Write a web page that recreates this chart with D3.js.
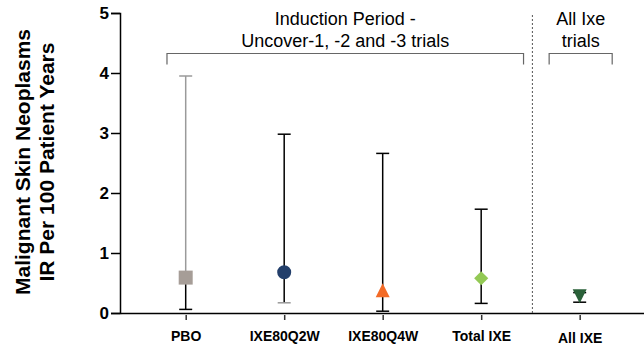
<!DOCTYPE html>
<html>
<head>
<meta charset="utf-8">
<script src="https://cdn.jsdelivr.net/npm/d3@7"></script>
<style>
  html, body { margin: 0; padding: 0; background: #fff; }
  svg { display: block; font-family: Arial, "Liberation Sans", sans-serif; }
</style>
</head>
<body>
<svg id="chart" width="644" height="349"></svg>
<script>
// Incidence rate (per 100 patient-years) with 95% CI
const categories = ["PBO", "IXE80Q2W", "IXE80Q4W", "Total IXE", "All IXE"];
const rates = [0.59, 0.68, 0.38, 0.58, 0.28];
const ciLower = [0.06, 0.17, 0.03, 0.16, 0.18];
const ciUpper = [3.95, 2.98, 2.66, 1.73, 0.34];
const markerShapes = ["square", "circle", "triangle", "diamond", "triangleDown"];
const markerColors = ["#a69d97", "#233f6b", "#f36b27", "#93c955", "#2a6139"];
const yTicks = [0, 1, 2, 3, 4, 5];
const groupLabels = [
  { lines: ["Induction Period -", "Uncover-1, -2 and -3 trials"], from: -0.19, to: 3.43 },
  { lines: ["All Ixe", "trials"], from: 3.69, to: 4.33 }
];
const dividerAt = 3.52;

(function () {
  const svg = d3.select("#chart");
  const plotLeft = 120, plotRight = 644, plotTop = 13, plotBottom = 313;

  const x = d3.scaleLinear().domain([-0.667, 4.653]).range([plotLeft, plotRight]);
  const y = d3.scaleLinear().domain([0, 5]).range([plotBottom, plotTop]);

  // Y axis
  const yAxis = svg.append("g")
    .attr("transform", `translate(${plotLeft},0)`)
    .call(d3.axisLeft(y).tickValues(yTicks).tickFormat(d3.format("d")).tickSize(9).tickPadding(2));
  yAxis.select(".domain").attr("stroke", "#000").attr("stroke-width", 1.5);
  yAxis.selectAll(".tick line").attr("stroke", "#000").attr("stroke-width", 1.5);
  yAxis.selectAll(".tick text")
    .attr("font-size", 17).attr("font-weight", "bold").attr("fill", "#000")
    .attr("font-family", "Arial, 'Liberation Sans', sans-serif");

  // X axis
  const xAxis = svg.append("g")
    .attr("transform", `translate(0,${plotBottom})`)
    .call(d3.axisBottom(x).tickValues(d3.range(categories.length))
      .tickFormat(i => categories[i]).tickSize(7).tickSizeOuter(0));
  xAxis.select(".domain").attr("stroke", "#000").attr("stroke-width", 1.5);
  xAxis.selectAll(".tick line").attr("stroke", "#333").attr("stroke-width", 1.5).attr("y1", 2);
  xAxis.selectAll(".tick text")
    .attr("font-size", 14).attr("font-weight", "bold").attr("fill", "#000")
    .attr("font-family", "Arial, 'Liberation Sans', sans-serif")
    .attr("dy", 0)
    .attr("y", (d, i) => i === categories.length - 1 ? 30 : 28);

  // Y axis title
  const yTitle = svg.append("text")
    .attr("transform", `translate(0,162) rotate(-90)`)
    .attr("text-anchor", "middle")
    .attr("font-size", 21).attr("font-weight", "bold").attr("fill", "#000");
  yTitle.append("tspan").attr("x", 0).attr("y", 30).text("Malignant Skin Neoplasms");
  yTitle.append("tspan").attr("x", 0).attr("y", 54).text("IR Per 100 Patient Years");

  // Divider between induction and all-trial results
  svg.append("line")
    .attr("x1", x(dividerAt)).attr("x2", x(dividerAt))
    .attr("y1", 15).attr("y2", plotBottom)
    .attr("stroke", "#555").attr("stroke-width", 1)
    .attr("stroke-dasharray", "2,2");

  // Group brackets and labels
  groupLabels.forEach(g => {
    const x0 = x(g.from), x1 = x(g.to), yb = 53.5, drop = 11;
    svg.append("path")
      .attr("d", `M${x0},${yb + drop}V${yb}H${x1}V${yb + drop}`)
      .attr("fill", "none").attr("stroke", "#666").attr("stroke-width", 1.2);
    const cx = (x0 + x1) / 2;
    g.lines.forEach((t, k) => {
      svg.append("text")
        .attr("x", cx).attr("y", 24.5 + k * 22)
        .attr("text-anchor", "middle")
        .attr("font-size", 18).attr("fill", "#000")
        .text(t);
    });
  });

  // Error bars
  const capHalf = 6.5;
  categories.forEach((c, i) => {
    const cx = x(i);
    const g = svg.append("g");
    g.append("line").attr("x1", cx).attr("x2", cx)
      .attr("y1", y(rates[i])).attr("y2", y(ciUpper[i]))
      .attr("stroke", i === 0 ? "#9a9a9a" : "#000").attr("stroke-width", 1.5);
    g.append("line").attr("x1", cx - capHalf).attr("x2", cx + capHalf)
      .attr("y1", y(ciUpper[i])).attr("y2", y(ciUpper[i]))
      .attr("stroke", i === 0 ? "#9a9a9a" : "#000").attr("stroke-width", 1.5);
    g.append("line").attr("x1", cx).attr("x2", cx)
      .attr("y1", y(rates[i])).attr("y2", y(ciLower[i]))
      .attr("stroke", "#000").attr("stroke-width", 1.5);
    g.append("line").attr("x1", cx - capHalf).attr("x2", cx + capHalf)
      .attr("y1", y(ciLower[i])).attr("y2", y(ciLower[i]))
      .attr("stroke", i === 1 ? "#999" : "#000").attr("stroke-width", 1.5);
  });

  // Isosceles triangle (as wide as it is tall) for the triangle markers
  const symbolTallTriangle = {
    draw(context, size) {
      const h = Math.sqrt(size * 2) / 2;
      context.moveTo(0, -h);
      context.lineTo(h, h);
      context.lineTo(-h, h);
      context.closePath();
    }
  };

  // Point markers
  const symbolFor = {
    square: d3.symbolSquare,
    circle: d3.symbolCircle,
    triangle: symbolTallTriangle,
    diamond: d3.symbolSquare,
    triangleDown: symbolTallTriangle
  };
  const sizeFor = { square: 196, circle: 154, triangle: 98, diamond: 100, triangleDown: 98 };
  categories.forEach((c, i) => {
    const shape = markerShapes[i];
    let rot = 0;
    if (shape === "diamond") rot = 45;
    if (shape === "triangleDown") rot = 180;
    svg.append("path")
      .attr("d", d3.symbol().type(symbolFor[shape]).size(sizeFor[shape])())
      .attr("transform", `translate(${x(i)},${y(rates[i])}) rotate(${rot})`)
      .attr("fill", markerColors[i]);
  });
})();
</script>
</body>
</html>
